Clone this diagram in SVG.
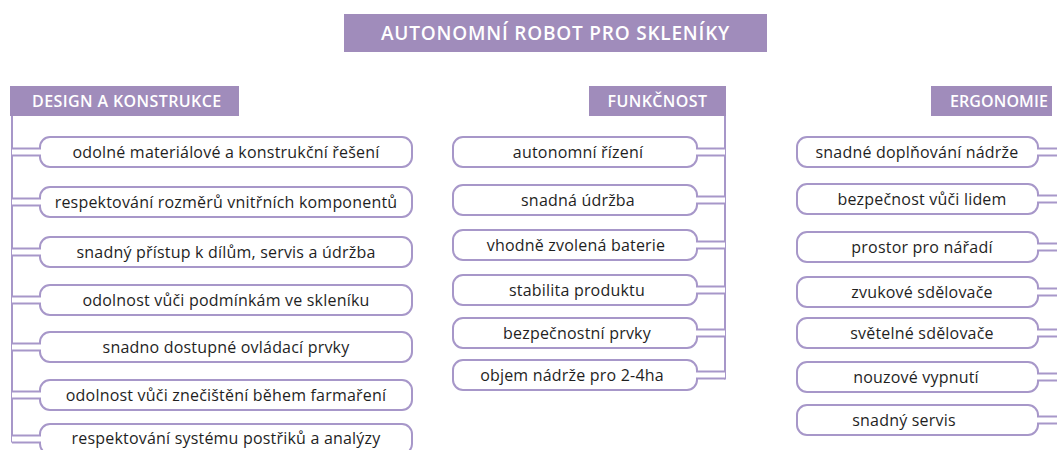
<svg xmlns="http://www.w3.org/2000/svg" xmlns:xlink="http://www.w3.org/1999/xlink" width="1057" height="450" viewBox="0 0 1057 450">
  <style>
    .hdr { fill: #A08CBB; }
    .hdr-t { fill: #ffffff; font-family: "Open Sans", "Liberation Sans", sans-serif; font-weight: 600; }
    .box { fill: #ffffff; stroke: #A797C9; stroke-width: 2; }
    .trunk { fill: none; stroke: #A797C9; stroke-width: 2; }
    .lbl { fill: #1f1f1f; font-family: "Open Sans", "Liberation Sans", sans-serif; font-size: 16px; letter-spacing: 0.2px; text-anchor: middle; }
  </style>
  <defs>
    <!-- item box with a double-line stem running to the trunk on the left -->
    <path id="boxL" class="box" d="M-28,11.5 H0 V10 A10 10 0 0 1 10,0 H362 A10 10 0 0 1 372,10 V20 A10 10 0 0 1 362,30 H10 A10 10 0 0 1 0,20 V18.5 H-28"/>
    <!-- item box with the stem running to the trunk on the right -->
    <path id="boxM" class="box" d="M272,11.5 H244 V10 A10 10 0 0 0 234,0 H10 A10 10 0 0 0 0,10 V20 A10 10 0 0 0 10,30 H234 A10 10 0 0 0 244,20 V18.5 H272"/>
    <path id="boxR" class="box" d="M265,11.5 H241 V10 A10 10 0 0 0 231,0 H10 A10 10 0 0 0 0,10 V20 A10 10 0 0 0 10,30 H231 A10 10 0 0 0 241,20 V18.5 H265"/>
  </defs>

  <rect width="1057" height="450" fill="#ffffff"/>

  <!-- trunks -->
  <g id="connectors">
    <line class="trunk" x1="12" y1="116" x2="12" y2="442.5"/>
    <line class="trunk" x1="725" y1="116" x2="725" y2="379.5"/>
    <line class="trunk" x1="1061" y1="116" x2="1061" y2="424.5"/>
  </g>

  <g id="title">
    <rect class="hdr" x="344" y="14" width="423" height="38"/>
    <text class="hdr-t" x="555.5" y="39.5" font-size="19" letter-spacing="0.8" text-anchor="middle">AUTONOMNÍ ROBOT PRO SKLENÍKY</text>
  </g>

  <g id="design">
    <rect class="hdr" x="10" y="86" width="229" height="30"/>
    <text class="hdr-t" x="32" y="106.5" font-size="16" letter-spacing="0.4">DESIGN A KONSTRUKCE</text>
  </g>
  <g id="funkcnost">
    <rect class="hdr" x="589" y="86" width="137" height="30"/>
    <text class="hdr-t" x="657.5" y="106.5" font-size="16" letter-spacing="0.4" text-anchor="middle">FUNKČNOST</text>
  </g>
  <g id="ergonomie">
    <rect class="hdr" x="931" y="86" width="121" height="30"/>
    <text class="hdr-t" x="950" y="106.5" font-size="16" letter-spacing="0.1">ERGONOMIE</text>
  </g>

  <!-- design a konstrukce -->
  <g id="d1"><use xlink:href="#boxL" x="40" y="137"/><text class="lbl" x="226" y="157.5">odolné materiálové a konstrukční řešení</text></g>
  <g id="d2"><use xlink:href="#boxL" x="40" y="187"/><text class="lbl" x="226" y="207.5">respektování rozměrů vnitřních komponentů</text></g>
  <g id="d3"><use xlink:href="#boxL" x="40" y="237"/><text class="lbl" x="226" y="257.5">snadný přístup k dílům, servis a údržba</text></g>
  <g id="d4"><use xlink:href="#boxL" x="40" y="285"/><text class="lbl" x="226" y="305.5">odolnost vůči podmínkám ve skleníku</text></g>
  <g id="d5"><use xlink:href="#boxL" x="40" y="332"/><text class="lbl" x="226" y="352.5">snadno dostupné ovládací prvky</text></g>
  <g id="d6"><use xlink:href="#boxL" x="40" y="380"/><text class="lbl" x="226" y="400.5">odolnost vůči znečištění během farmaření</text></g>
  <g id="d7"><use xlink:href="#boxL" x="40" y="424"/><text class="lbl" x="226" y="443.5">respektování systému postřiků a analýzy</text></g>

  <!-- funkčnost -->
  <g id="f1"><use xlink:href="#boxM" x="453" y="137"/><text class="lbl" x="578" y="157.5">autonomní řízení</text></g>
  <g id="f2"><use xlink:href="#boxM" x="453" y="185"/><text class="lbl" x="578" y="205.5">snadná údržba</text></g>
  <g id="f3"><use xlink:href="#boxM" x="453" y="230"/><text class="lbl" x="576" y="250.5">vhodně zvolená baterie</text></g>
  <g id="f4"><use xlink:href="#boxM" x="453" y="275"/><text class="lbl" x="577" y="295.5">stabilita produktu</text></g>
  <g id="f5"><use xlink:href="#boxM" x="453" y="318"/><text class="lbl" x="577" y="338.5">bezpečnostní prvky</text></g>
  <g id="f6"><use xlink:href="#boxM" x="453" y="360"/><text class="lbl" x="572" y="380.5">objem nádrže pro 2-4ha</text></g>

  <!-- ergonomie -->
  <g id="e1"><use xlink:href="#boxR" x="797" y="137"/><text class="lbl" x="917" y="157.5">snadné doplňování nádrže</text></g>
  <g id="e2"><use xlink:href="#boxR" x="797" y="184"/><text class="lbl" x="922" y="204.5">bezpečnost vůči lidem</text></g>
  <g id="e3"><use xlink:href="#boxR" x="797" y="232"/><text class="lbl" x="922" y="252.5">prostor pro nářadí</text></g>
  <g id="e4"><use xlink:href="#boxR" x="797" y="277"/><text class="lbl" x="922" y="297.5">zvukové sdělovače</text></g>
  <g id="e5"><use xlink:href="#boxR" x="797" y="318"/><text class="lbl" x="922" y="338.5">světelné sdělovače</text></g>
  <g id="e6"><use xlink:href="#boxR" x="797" y="362"/><text class="lbl" x="916" y="382.5">nouzové vypnutí</text></g>
  <g id="e7"><use xlink:href="#boxR" x="797" y="405"/><text class="lbl" x="904" y="425.5">snadný servis</text></g>
</svg>
